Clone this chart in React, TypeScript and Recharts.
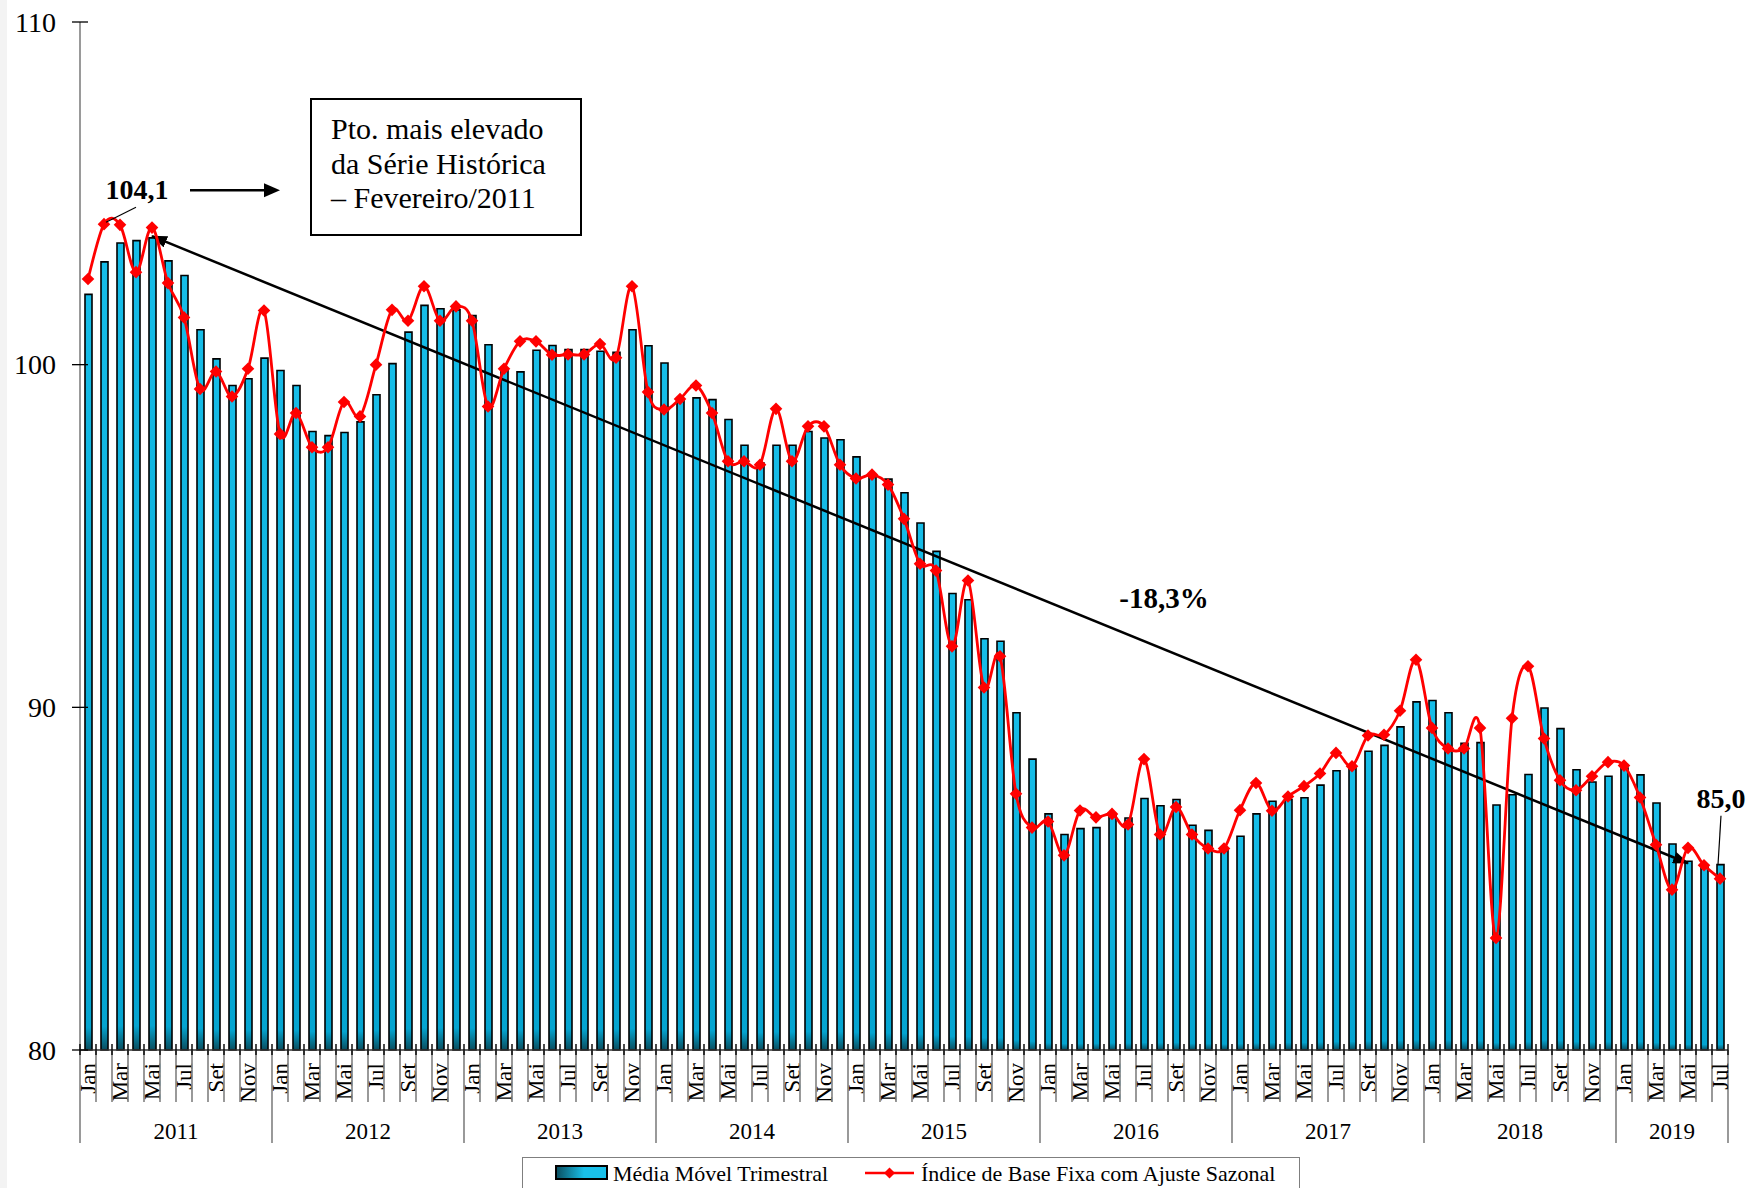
import React from 'react';
import { ComposedChart, Bar, Line, XAxis, YAxis, ReferenceLine } from 'recharts';

// ---------- DATA ----------
const YEARS = [2011, 2012, 2013, 2014, 2015, 2016, 2017, 2018, 2019];
const MONTHS = ['Jan', 'Fev', 'Mar', 'Abr', 'Mai', 'Jun', 'Jul', 'Ago', 'Set', 'Out', 'Nov', 'Dez'];
const MONTHS_IN_LAST_YEAR = 7;

// Média Móvel Trimestral (bars)
const mediaMovel = [
  102.05, 103.0, 103.55, 103.62, 103.7, 103.03, 102.6, 101.02, 100.17, 99.39, 99.59, 100.19,
  99.83, 99.39, 98.05, 97.93, 98.02, 98.33, 99.12, 100.03, 100.95, 101.73, 101.63, 101.6,
  101.43, 100.58, 99.85, 99.79, 100.42, 100.56, 100.44, 100.44, 100.39, 100.36, 101.02, 100.55,
  100.05, 98.98, 99.03, 98.98, 98.4, 97.65, 97.13, 97.65, 97.65, 98.05, 97.86, 97.81,
  97.31, 96.79, 96.66, 96.26, 95.38, 94.55, 93.32, 93.14, 92.0, 91.93, 89.84, 88.49,
  86.89, 86.29, 86.46, 86.49, 86.87, 86.77, 87.34, 87.13, 87.31, 86.56, 86.41, 85.85,
  86.24, 86.89, 87.26, 87.31, 87.36, 87.73, 88.15, 88.25, 88.72, 88.89, 89.43, 90.16,
  90.2, 89.84, 88.95, 88.97, 87.15, 87.45, 88.04, 89.98, 89.38, 88.18, 87.82, 87.99,
  88.23, 88.03, 87.21, 86.01, 85.51, 85.36, 85.41,
];

// Índice de Base Fixa com Ajuste Sazonal (line)
const indiceAjustado = [
  102.5, 104.1, 104.08, 102.7, 104.0, 102.38, 101.38, 99.29, 99.8, 99.07, 99.88, 101.58,
  97.98, 98.59, 97.59, 97.59, 98.91, 98.49, 100.0, 101.6, 101.28, 102.29, 101.28, 101.7,
  101.28, 98.78, 99.88, 100.68, 100.68, 100.29, 100.3, 100.3, 100.6, 100.2, 102.29, 99.2,
  98.69, 99.0, 99.39, 98.59, 97.18, 97.18, 97.08, 98.71, 97.18, 98.2, 98.2, 97.08,
  96.68, 96.79, 96.5, 95.5, 94.19, 93.99, 91.78, 93.7, 90.58, 91.49, 87.48, 86.49,
  86.67, 85.68, 86.99, 86.79, 86.89, 86.58, 88.49, 86.29, 87.09, 86.29, 85.88, 85.88,
  87.0, 87.79, 86.98, 87.4, 87.7, 88.07, 88.67, 88.28, 89.18, 89.2, 89.9, 91.39,
  89.4, 88.8, 88.8, 89.4, 83.27, 89.68, 91.2, 89.09, 87.87, 87.58, 87.99, 88.4,
  88.3, 87.37, 85.99, 84.68, 85.9, 85.39, 85.0,
];

const Y_TICKS = [80, 90, 100, 110];
const Y_DOMAIN: [number, number] = [80, 110];

// trend annotation (start at Mai/2011, end at Mai/2019)
const TREND_START_INDEX = 4;
const TREND_END_INDEX = 100;
const TREND_START_VALUE = 103.75;
const TREND_END_VALUE = 85.45;
const TREND_LABEL = '-18,3%';
const BOX_LINES = ['Pto. mais elevado', 'da Série Histórica', '– Fevereiro/2011'];

const SERIES_BAR = 'Média Móvel Trimestral';
const SERIES_LINE = 'Índice de Base Fixa com Ajuste Sazonal';

// ---------- TABLE ----------
const data = YEARS.flatMap((year, yi) =>
  MONTHS.slice(0, yi === YEARS.length - 1 ? MONTHS_IN_LAST_YEAR : 12).map((month, mi) => ({
    key: `${month}/${year}`,
    month,
    monthIndex: mi,
    year,
  }))
).map((c, i) => ({ ...c, media: mediaMovel[i], indice: indiceAjustado[i] }));

const PEAK_INDEX = indiceAjustado.indexOf(Math.max(...indiceAjustado));
const LAST_INDEX = data.length - 1;

// ---------- LAYOUT ----------
const W = 1754;
const H = 1188;
const MARGIN = { top: 22, right: 26, left: 0, bottom: 0 };
const Y_AXIS_W = 80;
const X_AXIS_H = 138;
const PLOT_W = W - MARGIN.left - MARGIN.right - Y_AXIS_W;
const BAND = PLOT_W / data.length;
const FONT = "'Liberation Serif', 'Times New Roman', serif";
const RED = '#FF0000';
const DOT_R = 6.3;

const fmt = (v: number) => v.toFixed(1).replace('.', ',');

// Catmull-Rom style smoothing (like Excel's smoothed line)
const smoothCurve: any = (context: any) => {
  let pts: number[][] = [];
  return {
    areaStart() {},
    areaEnd() {},
    lineStart() {
      pts = [];
    },
    lineEnd() {
      const n = pts.length;
      if (!n) return;
      context.moveTo(pts[0][0], pts[0][1]);
      for (let i = 0; i < n - 1; i++) {
        const p0 = pts[i - 1] || pts[i];
        const p1 = pts[i];
        const p2 = pts[i + 1];
        const p3 = pts[i + 2] || p2;
        const c1x = p1[0] + (p2[0] - p0[0]) / 6;
        const c1y = p1[1] + (p2[1] - p0[1]) / 6;
        const c2x = p2[0] - (p3[0] - p1[0]) / 6;
        const c2y = p2[1] - (p3[1] - p1[1]) / 6;
        context.bezierCurveTo(c1x, c1y, c2x, c2y, p2[0], p2[1]);
      }
    },
    point(x: number, y: number) {
      pts.push([+x, +y]);
    },
  };
};

const diamond = (cx: number, cy: number, r: number) =>
  `${cx},${cy - r} ${cx + r},${cy} ${cx},${cy + r} ${cx - r},${cy}`;

const renderDot = (props: any) => {
  const { cx, cy, index, payload } = props;
  if (cx == null || cy == null) return <g key={`d-${index}`} />;
  const v = payload.indice as number;
  return (
    <g key={`d-${index}`}>
      <polygon points={diamond(cx, cy, DOT_R)} fill={RED} />
      {index === PEAK_INDEX && (
        <g>
          <text x={cx + 33} y={cy - 35} textAnchor="middle" dominantBaseline="central" fontWeight="bold" fontSize={28} fontFamily={FONT} fill="#000">
            {fmt(v)}
          </text>
          <line x1={cx + 32} y1={cy - 17} x2={cx + 2} y2={cy - 2} stroke="#000" strokeWidth={1.2} />
          <line x1={cx + 86} y1={cy - 34} x2={cx + 162} y2={cy - 34} stroke="#000" strokeWidth={2.5} />
          <polygon points={`${cx + 176},${cy - 34} ${cx + 160},${cy - 41} ${cx + 160},${cy - 27}`} fill="#000" />
        </g>
      )}
      {index === LAST_INDEX && (
        <g>
          <text x={cx + 1} y={cy - 80} textAnchor="middle" dominantBaseline="central" fontWeight="bold" fontSize={28} fontFamily={FONT} fill="#000">
            {fmt(v)}
          </text>
          <line x1={cx + 1} y1={cy - 63} x2={cx - 2} y2={cy - 14} stroke="#000" strokeWidth={1.2} />
        </g>
      )}
    </g>
  );
};

const XTick = (props: any) => {
  const { x, y, payload } = props;
  const i = payload.index;
  const d = data[i];
  if (!d) return null;
  const left = x - BAND / 2;
  const right = x + BAND / 2;
  const isYearStart = d.monthIndex === 0;
  const monthsInYear = data.filter((r) => r.year === d.year).length;
  return (
    <g>
      <line x1={left} x2={left} y1={y} y2={y + (isYearStart ? 93 : 52)} stroke="#808080" strokeWidth={1.6} />
      <line x1={left} x2={left} y1={y - 6} y2={y + 5} stroke="#000" strokeWidth={1.4} />
      {i === LAST_INDEX && (
        <g>
          <line x1={right} x2={right} y1={y} y2={y + 93} stroke="#808080" strokeWidth={1.6} />
          <line x1={right} x2={right} y1={y - 6} y2={y + 5} stroke="#000" strokeWidth={1.4} />
        </g>
      )}
      {d.monthIndex % 2 === 0 && (
        <text
          x={x}
          y={y + 13}
          transform={`rotate(-90 ${x} ${y + 13})`}
          textAnchor="end"
          dominantBaseline="central"
          fontSize={23}
          fontFamily={FONT}
          fill="#000"
        >
          {d.month}
        </text>
      )}
      {isYearStart && (
        <text x={left + (monthsInYear * BAND) / 2} y={y + 81} textAnchor="middle" dominantBaseline="central" fontSize={23} fontFamily={FONT} fill="#000">
          {d.year}
        </text>
      )}
    </g>
  );
};

const YTick = (props: any) => {
  const { x, y, payload } = props;
  return (
    <g>
      <line x1={x - 8} x2={x + 8} y1={y} y2={y} stroke="#000" strokeWidth={1.3} />
      <text x={x - 24} y={y} textAnchor="end" dominantBaseline="central" fontSize={28} fontFamily={FONT} fill="#000">
        {payload.value}
      </text>
    </g>
  );
};

const TrendShape = (p: any) => (
  <line
    x1={p.x1}
    y1={p.y1}
    x2={p.x2}
    y2={p.y2}
    stroke="#000"
    strokeWidth={2.5}
    markerStart="url(#trendArrow)"
    markerEnd="url(#trendArrow)"
  />
);

export default function App() {
  return (
    <div style={{ position: 'absolute', left: 0, top: 0, width: W, height: H, background: '#fff', overflow: 'hidden', fontFamily: FONT }}>
      <div style={{ position: 'absolute', left: 0, top: 0, width: 7, height: H, background: '#f3f3f3' }} />
      <ComposedChart width={W} height={H} data={data} margin={MARGIN} barCategoryGap={0}>
        <defs>
          <linearGradient id="barGrad" x1="0" y1="0" x2="0" y2="1">
            <stop offset="0%" stopColor="#16BDE8" />
            <stop offset="97%" stopColor="#04A4D0" />
            <stop offset="100%" stopColor="#0A4D5E" />
          </linearGradient>
          <marker id="trendArrow" viewBox="0 0 16 12" refX="15" refY="6" markerWidth="16" markerHeight="12" markerUnits="userSpaceOnUse" orient="auto-start-reverse">
            <path d="M0,0 L16,6 L0,12 z" fill="#000" />
          </marker>
        </defs>
        <XAxis
          dataKey="key"
          interval={0}
          height={X_AXIS_H}
          tickSize={0}
          tickMargin={0}
          tick={<XTick />}
          axisLine={{ stroke: '#333', strokeWidth: 1.3 }}
          tickLine={false}
        />
        <YAxis
          domain={Y_DOMAIN}
          ticks={Y_TICKS}
          width={Y_AXIS_W}
          tickSize={0}
          tickMargin={0}
          tick={<YTick />}
          axisLine={{ stroke: '#808080', strokeWidth: 1.6 }}
          tickLine={false}
          interval={0}
        />
        <Bar dataKey="media" name={SERIES_BAR} barSize={7} fill="url(#barGrad)" stroke="#000" strokeWidth={1.6} isAnimationActive={false} />
        <ReferenceLine
          segment={[
            { x: data[TREND_START_INDEX].key, y: TREND_START_VALUE },
            { x: data[TREND_END_INDEX].key, y: TREND_END_VALUE },
          ]}
          ifOverflow="visible"
          stroke="#000"
          strokeWidth={2.5}
          shape={TrendShape}
        />
        <Line
          dataKey="indice"
          name={SERIES_LINE}
          type={smoothCurve}
          stroke={RED}
          strokeWidth={2.8}
          dot={renderDot}
          activeDot={false}
          isAnimationActive={false}
        />
      </ComposedChart>

      {/* annotation box */}
      <div
        style={{
          position: 'absolute',
          left: 310,
          top: 98,
          width: 272,
          height: 138,
          boxSizing: 'border-box',
          border: '2px solid #000',
          padding: '12px 0 0 19px',
          fontSize: 30,
          lineHeight: '34.5px',
          color: '#000',
          whiteSpace: 'nowrap',
        }}
      >
        {BOX_LINES.map((l) => (
          <div key={l}>{l}</div>
        ))}
      </div>

      {/* trend percentage */}
      <div style={{ position: 'absolute', left: 1164, top: 598, transform: 'translate(-50%, -50%)', fontSize: 29, fontWeight: 'bold', color: '#000', whiteSpace: 'nowrap' }}>
        {TREND_LABEL}
      </div>

      {/* legend */}
      <div
        style={{
          position: 'absolute',
          left: 522,
          top: 1157,
          width: 778,
          height: 50,
          boxSizing: 'border-box',
          border: '1.5px solid #7f7f7f',
          background: '#fff',
        }}
      >
        <svg width={778} height={50} style={{ position: 'absolute', left: -1.5, top: -1.5 }}>
          <defs>
            <linearGradient id="legendGradL" x1="0" y1="0" x2="1" y2="0">
              <stop offset="0%" stopColor="#0A4D5E" />
              <stop offset="55%" stopColor="#19C0EA" />
              <stop offset="100%" stopColor="#19C0EA" />
            </linearGradient>
          </defs>
          <rect x={34} y={9} width={51} height={13} fill="url(#legendGradL)" stroke="#000" strokeWidth={2} />
          <text x={91} y={16} dominantBaseline="central" fontSize={22} fontFamily={FONT} fill="#000">
            {SERIES_BAR}
          </text>
          <line x1={343} x2={392} y1={16} y2={16} stroke={RED} strokeWidth={2.6} />
          <polygon points={diamond(367.5, 16, 5.5)} fill={RED} />
          <text x={399} y={16} dominantBaseline="central" fontSize={22} fontFamily={FONT} fill="#000">
            {SERIES_LINE}
          </text>
        </svg>
      </div>
    </div>
  );
}
